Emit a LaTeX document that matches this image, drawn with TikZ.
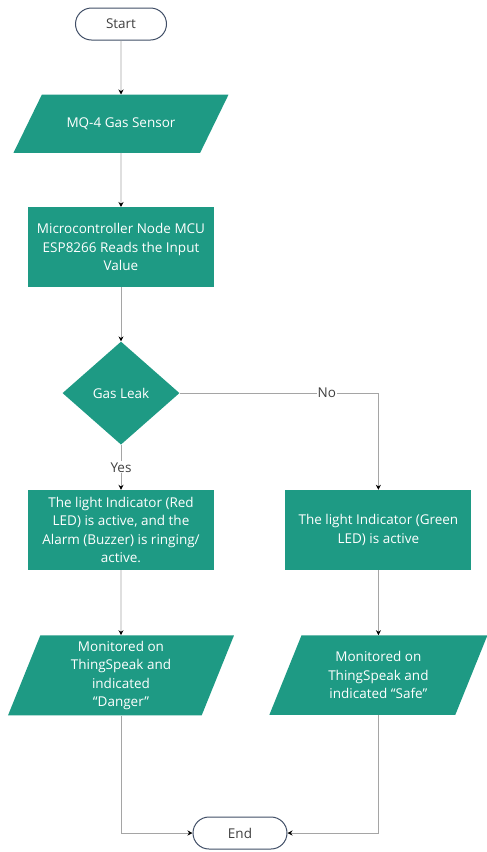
\documentclass[tikz,border=0pt]{standalone}
\usepackage{fontspec}
\setmainfont{Open Sans}
\usepackage{tikz}
\usetikzlibrary{arrows.meta}
\usetikzlibrary{positioning}
\usetikzlibrary{shapes.geometric}
\definecolor{teal1}{RGB}{30,154,132}
\definecolor{slate}{RGB}{64,78,102}
\definecolor{conn}{RGB}{165,165,165}

\begin{document}
\begin{tikzpicture}[x=1pt, y=1pt,
    font=\fontsize{13.5}{18.5}\selectfont,
    term/.style={draw=slate, line width=1pt, fill=white, text=black!75,
      rounded corners=16pt, minimum height=32pt},
    proc/.style={rectangle, fill=teal1, text=white, align=center,
      minimum width=186pt, minimum height=80pt, inner sep=2pt},
    io/.style={trapezium, trapezium left angle=68, trapezium right angle=112,
      trapezium stretches body, fill=teal1, text=white, align=center, inner xsep=1pt},
    dec/.style={diamond, fill=teal1, text=white, minimum width=117pt,
      minimum height=103pt, inner sep=0pt},
    line/.style={draw=conn, line width=0.8pt},
    arr/.style={line, -{Stealth[length=5pt, width=5pt, black]}},
    lbl/.style={fill=white, text=black!75, inner sep=1pt}]
  \useasboundingbox (0,0) rectangle (487,-852);

  \node[term, minimum width=91pt] (start) at (121,-24) {Start};
  \node[io, below=54pt of start, minimum width=215pt, inner ysep=23pt,
    trapezium left angle=64, trapezium right angle=116] (mq) {MQ-4 Gas Sensor};
  \node[proc, below=54pt of mq] (mcu) {Microcontroller Node MCU\\ESP8266 Reads the Input\\Value};
  \node[dec, below=54pt of mcu] (leak) {Gas Leak};

  \node[proc, below=45pt of leak] (red) {The light Indicator (Red\\LED) is active, and the\\Alarm (Buzzer) is ringing/\\active.};
  \node[proc, right=71pt of red] (grn) {The light Indicator (Green\\LED) is active};

  \node[io, below=65pt of red, minimum width=226pt, inner ysep=5.5pt] (dng) {Monitored on\\ThingSpeak and\\indicated\\“Danger”};
  \node[io, below=65pt of grn, minimum width=218pt, inner ysep=16pt] (safe) {Monitored on\\ThingSpeak and\\indicated “Safe”};

  \node[term, minimum width=94pt] (end) at (240,-833) {End};

  % main line
  \draw[arr] (start) -- (mq);
  \draw[arr] (mq) -- (mcu);
  \draw[arr] (mcu) -- (leak);
  \draw[arr] (leak) -- node[lbl] {Yes} (red);
  \draw[arr] (leak.east) -| node[lbl, pos=0.37] {No} (grn.north);
  \draw[arr] (red) -- (dng);
  \draw[arr] (grn) -- (safe);
  \draw[arr] (dng.south) |- (end.west);
  \draw[arr] (safe.south) |- (end.east);
\end{tikzpicture}
\end{document}
